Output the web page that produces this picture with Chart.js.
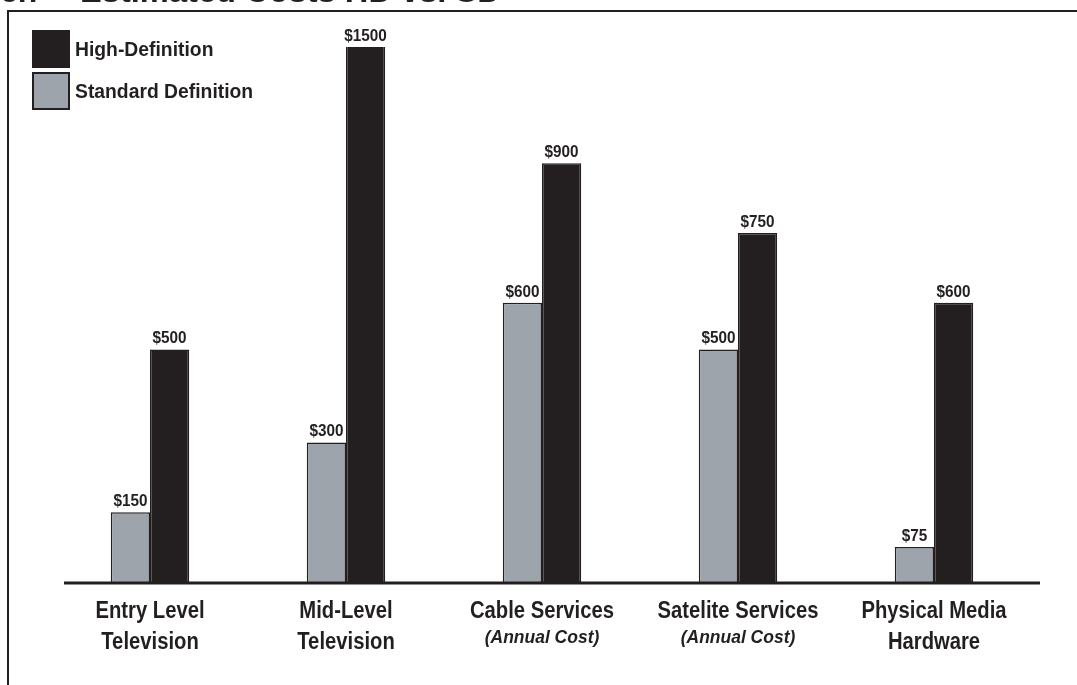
<!DOCTYPE html>
<html>
<head>
<meta charset="utf-8">
<script src="https://cdn.jsdelivr.net/npm/chart.js@4/dist/chart.umd.min.js"></script>
<style>
  html, body { margin: 0; padding: 0; background: #ffffff; }
  #wrap { width: 1077px; height: 685px; position: relative; }
</style>
</head>
<body>
<div id="wrap"><canvas id="c" width="1077" height="685"></canvas></div>
<script>
// ---- Data ----
const categories = ['Entry Level', 'Mid-Level', 'Cable Services', 'Satelite Services', 'Physical Media'];
const categorySublines = ['Television', 'Television', '(Annual Cost)', '(Annual Cost)', 'Hardware'];
const seriesNames = ['Standard Definition', 'High-Definition'];
const sdValues = [150, 300, 600, 500, 75];
const hdValues = [500, 1500, 900, 750, 600];
const titleText = 'Estimated Costs HD vs. SD';

const INK = '#231f20';
const FONT = "'Liberation Sans', Arial, sans-serif";

// draw horizontally condensed text (real text via fillText)
function condText(ctx, text, x, y, sx) {
  ctx.save();
  ctx.translate(x, y);
  ctx.scale(sx, 1);
  ctx.fillText(text, 0, 0);
  ctx.restore();
}

const decorPlugin = {
  id: 'decor',
  beforeDraw(chart) {
    const ctx = chart.ctx;
    ctx.save();
    ctx.fillStyle = '#ffffff';
    ctx.fillRect(0, 0, chart.width, chart.height);
    // frame (top + left)
    ctx.strokeStyle = INK;
    ctx.lineWidth = 2;
    ctx.beginPath();
    ctx.moveTo(8, chart.height);
    ctx.lineTo(8, 11);
    ctx.lineTo(chart.width, 11);
    ctx.stroke();
    // cut-off title
    ctx.fillStyle = INK;
    ctx.font = 'bold 32px ' + FONT;
    ctx.textBaseline = 'alphabetic';
    ctx.textAlign = 'left';
    condText(ctx, 'ch', 0, 2, 1);
    condText(ctx, '\u2013', 48, 2, 1);
    condText(ctx, titleText, 80, 2, 1.02);
    ctx.restore();
  },
  afterDatasetsDraw(chart) {
    const ctx = chart.ctx;
    const area = chart.chartArea;
    const x = chart.scales.x;
    const y = chart.scales.y;
    ctx.save();
    // baseline
    const y0 = y.getPixelForValue(0);
    ctx.strokeStyle = INK;
    ctx.lineWidth = 3;
    ctx.beginPath();
    ctx.moveTo(area.left + 12, y0 + 1);
    ctx.lineTo(area.right + 8, y0 + 1);
    ctx.stroke();

    // value labels
    ctx.fillStyle = INK;
    ctx.font = 'bold 17px ' + FONT;
    ctx.textAlign = 'center';
    ctx.textBaseline = 'alphabetic';
    chart.data.datasets.forEach((ds, di) => {
      const meta = chart.getDatasetMeta(di);
      meta.data.forEach((bar, i) => {
        const top = Math.max(bar.y, area.top);
        condText(ctx, '$' + ds.data[i], bar.x, top - 6, 0.9);
      });
    });

    // category labels
    categories.forEach((cat, i) => {
      const cx = x.getPixelForValue(i);
      ctx.font = 'bold 23px ' + FONT;
      condText(ctx, cat, cx, 618, 0.88);
      const sub = categorySublines[i];
      if (sub.startsWith('(')) {
        ctx.font = 'italic bold 19px ' + FONT;
        condText(ctx, sub, cx, 643, 0.92);
      } else {
        ctx.font = 'bold 23px ' + FONT;
        condText(ctx, sub, cx, 649, 0.88);
      }
    });

    // legend (reverse dataset order: HD first)
    const ds = chart.data.datasets.slice().reverse();
    ds.forEach((d, k) => {
      const top = 31 + k * 42;
      ctx.fillStyle = d.backgroundColor;
      ctx.fillRect(33, top, 36, 36);
      ctx.strokeStyle = INK;
      ctx.lineWidth = 2;
      ctx.strokeRect(33, top, 36, 36);
      ctx.fillStyle = INK;
      ctx.font = 'bold 21px ' + FONT;
      ctx.textAlign = 'left';
      ctx.textBaseline = 'alphabetic';
      condText(ctx, d.label, 75, top + 25, 0.92);
    });
    ctx.restore();
  }
};

new Chart(document.getElementById('c'), {
  type: 'bar',
  data: {
    labels: categories,
    datasets: [
      {
        label: seriesNames[0],
        data: sdValues,
        backgroundColor: '#9ea4ab',
        borderColor: INK,
        borderWidth: 1.5,
        categoryPercentage: 0.4,
        barPercentage: 1.0,
        clip: 0
      },
      {
        label: seriesNames[1],
        data: hdValues,
        backgroundColor: INK,
        borderColor: INK,
        borderWidth: 1.5,
        categoryPercentage: 0.4,
        barPercentage: 1.0,
        clip: 0
      }
    ]
  },
  options: {
    responsive: false,
    animation: false,
    layout: { padding: { left: 52, right: 45, top: 47, bottom: 103 } },
    plugins: {
      legend: { display: false },
      title: { display: false },
      tooltip: { enabled: false }
    },
    scales: {
      x: { display: false, offset: true, grid: { display: false } },
      y: { display: false, min: 0, max: 1150, grid: { display: false } }
    }
  },
  plugins: [decorPlugin]
});
</script>
</body>
</html>
